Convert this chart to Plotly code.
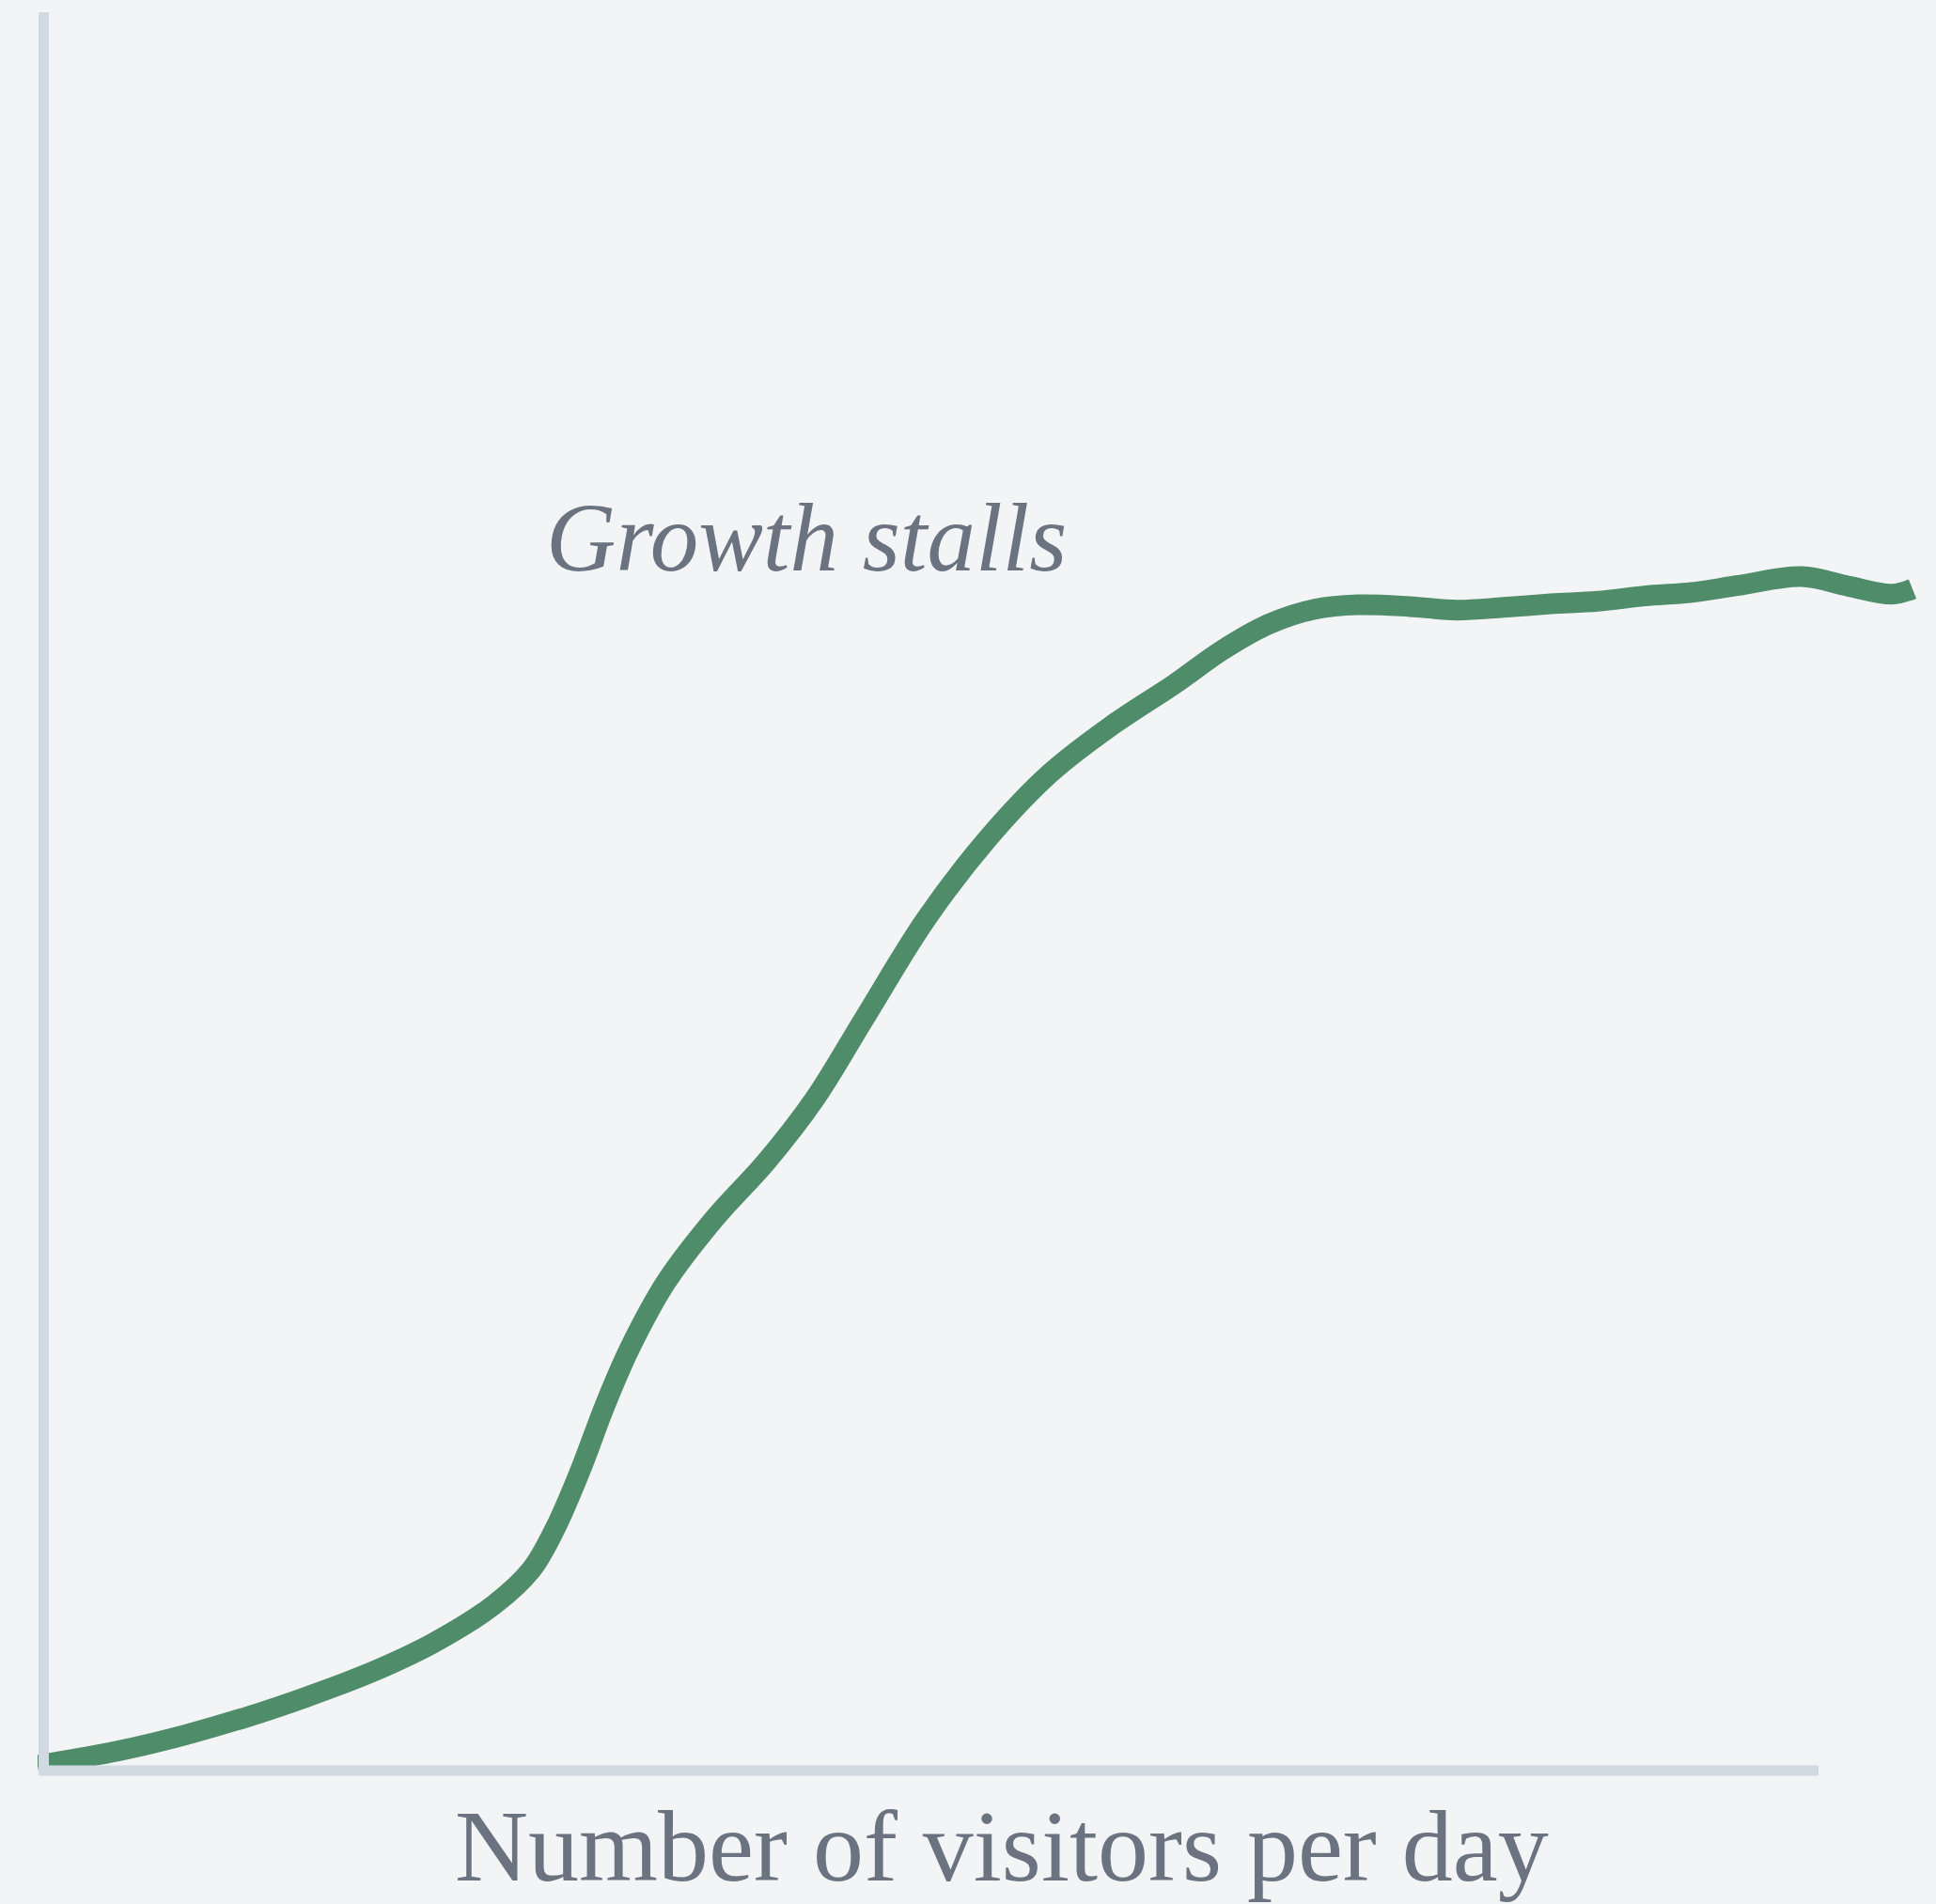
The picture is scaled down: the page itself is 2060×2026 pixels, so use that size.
import plotly.graph_objects as go

# Data: day index vs visitors
days = [0, 4.55, 7.85, 11.15, 14.4, 17.7, 21, 24.25, 26.25, 27.55, 28.85, 30.2, 31.5,
        33.45, 36.1, 38.75, 41.35, 44, 47.25, 50.55, 53.85, 57.1, 60.5, 63, 65.5, 68,
        70.25, 73, 75.5, 78, 80.5, 83, 85.5, 88, 90.5, 93.85, 96.35, 98.65, 99.75]
visitors = [3, 11.8, 20.3, 30.5, 42.2, 55.6, 72.2, 94, 114, 138, 170, 208, 240,
            278, 315, 346, 382, 428, 484, 530, 567, 594, 618, 637, 652, 660.6,
            663, 662, 660, 661.5, 663.5, 665, 668, 670, 674, 679, 673.5, 669, 672]

annotation_text = "Growth stalls"
x_title = "Number of visitors per day"

W, H = 2060, 2026
ML, MR, MT, MB = 40, 20, 13, 142
PW, PH = W - ML - MR, H - MT - MB

def px_to_paper_x(px):
    return (px - ML) / PW

def py_to_paper_y(py):
    return (H - MB - py) / PH

BG = "#f3f4f6"
GREEN = "#4f8c6a"
AXIS = "#d1d9e2"
TEXT = "#6b7280"

fig = go.Figure()
fig.add_trace(go.Scatter(
    x=days, y=visitors, mode="lines",
    line=dict(color=GREEN, width=22, shape="spline", smoothing=1.0),
    hoverinfo="skip", showlegend=False,
))

# axis lines
fig.add_shape(type="line", xref="paper", yref="paper",
              x0=px_to_paper_x(46.5), x1=px_to_paper_x(46.5),
              y0=py_to_paper_y(1889), y1=py_to_paper_y(13),
              line=dict(color=AXIS, width=11), layer="above")
fig.add_shape(type="line", xref="paper", yref="paper",
              x0=px_to_paper_x(41), x1=px_to_paper_x(1935),
              y0=py_to_paper_y(1884), y1=py_to_paper_y(1884),
              line=dict(color=AXIS, width=11), layer="above")

fig.add_annotation(
    text=annotation_text, xref="paper", yref="paper",
    x=px_to_paper_x(858), y=py_to_paper_y(572), xanchor="center", yanchor="middle",
    showarrow=False,
    font=dict(family="Liberation Serif", size=103, color=TEXT, style="italic"),
)
fig.add_annotation(
    text=x_title, xref="paper", yref="paper",
    x=px_to_paper_x(1066), y=py_to_paper_y(1964), xanchor="center", yanchor="middle",
    showarrow=False,
    font=dict(family="Liberation Serif", size=108, color=TEXT),
)

fig.update_layout(
    width=W, height=H,
    margin=dict(l=ML, r=MR, t=MT, b=MB),
    paper_bgcolor=BG, plot_bgcolor=BG,
    xaxis=dict(range=[0, 100], visible=False, fixedrange=True),
    yaxis=dict(range=[0, 1000], visible=False, fixedrange=True),
)

fig.write_html("out.html", config={"displayModeBar": False})

# remove default page margin so the figure fills the window
with open("out.html", "r", encoding="utf-8") as f:
    html = f.read()
html = html.replace("<head>", "<head><style>html,body{margin:0;padding:0;background:%s;}</style>" % BG, 1)
with open("out.html", "w", encoding="utf-8") as f:
    f.write(html)
